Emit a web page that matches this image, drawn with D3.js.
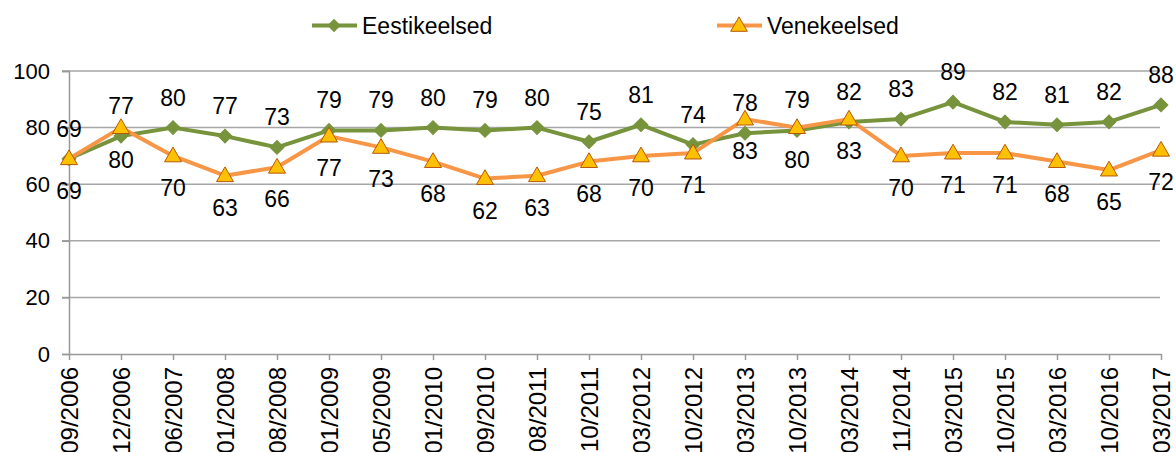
<!DOCTYPE html>
<html><head><meta charset="utf-8">
<script src="https://cdn.jsdelivr.net/npm/d3@7"></script>
<style>
html,body{margin:0;padding:0;background:#fff;}
svg{display:block;}
text{font-family:"Liberation Sans",Arial,sans-serif;fill:#000;}
</style></head>
<body>
<svg id="chart" width="1176" height="452"></svg>
<script>
const categories = ["09/2006","12/2006","06/2007","01/2008","08/2008","01/2009","05/2009","01/2010","09/2010","08/2011","10/2011","03/2012","10/2012","03/2013","10/2013","03/2014","11/2014","03/2015","10/2015","03/2016","10/2016","03/2017"];
const eesti = [69,77,80,77,73,79,79,80,79,80,75,81,74,78,79,82,83,89,82,81,82,88];
const vene  = [69,80,70,63,66,77,73,68,62,63,68,70,71,83,80,83,70,71,71,68,65,72];
const yTicks = [0,20,40,60,80,100];
const seriesNames = ["Eestikeelsed","Venekeelsed"];

const svg = d3.select("#chart");
const x = d3.scalePoint().domain(categories).range([69,1161]);
const y = d3.scaleLinear().domain([0,100]).range([354,71]);

const greenC = "#77933C", orangeC = "#F79646", triFill = "#FFC000", triStroke = "#B65708";
const fsLabel = 23, fsY = 22, fsX = 24;
const fam = "Liberation Sans, Arial, sans-serif";

// gridlines
svg.append("g").selectAll("line").data(yTicks.filter(d=>d>0)).join("line")
  .attr("x1",62).attr("x2",1160).attr("y1",d=>y(d)).attr("y2",d=>y(d))
  .attr("stroke","#a6a6a6").attr("stroke-width",1.5);

// y axis
const yAxis = d3.axisLeft(y).tickValues(yTicks).tickSize(7).tickPadding(12);
const gy = svg.append("g").attr("transform","translate(69,0)").call(yAxis);
gy.select(".domain").attr("stroke","#999").attr("stroke-width",1.5);
gy.selectAll(".tick line").attr("stroke","#999").attr("stroke-width",1.5);
gy.selectAll(".tick text").style("font-size",fsY+"px").style("font-family",fam).attr("fill","#000");

// x axis
const xAxis = d3.axisBottom(x).tickSize(6).tickSizeOuter(0);
const gx = svg.append("g").attr("transform","translate(0,354)").call(xAxis);
gx.select(".domain").attr("stroke","#999").attr("stroke-width",1.5);
gx.selectAll(".tick line").attr("stroke","#999").attr("stroke-width",1.5);
gx.selectAll(".tick text")
  .style("font-size",fsX+"px").style("font-family",fam).attr("fill","#000")
  .attr("transform","rotate(-90)").attr("text-anchor","end")
  .attr("x",-13).attr("y",0).attr("dy","0.36em");

const line = d3.line().x((d,i)=>x(categories[i])).y(d=>y(d));

// green series
svg.append("path").datum(eesti).attr("d",line).attr("fill","none")
  .attr("stroke",greenC).attr("stroke-width",4).attr("stroke-linejoin","round");
svg.append("g").selectAll("path").data(eesti).join("path")
  .attr("d", d3.symbol().type(d3.symbolSquare).size(95))
  .attr("transform",(d,i)=>`translate(${x(categories[i])},${y(d)}) rotate(45)`)
  .attr("fill",greenC).attr("stroke",greenC).attr("stroke-width",1);

// orange series
svg.append("path").datum(vene).attr("d",line).attr("fill","none")
  .attr("stroke",orangeC).attr("stroke-width",4).attr("stroke-linejoin","round");
const tri = d3.symbol().type(d3.symbolTriangle).size(125);
svg.append("g").selectAll("path").data(vene).join("path")
  .attr("d",tri)
  .attr("transform",(d,i)=>`translate(${x(categories[i])},${y(d)+1})`)
  .attr("fill",triFill).attr("stroke",triStroke).attr("stroke-width",1);

// data labels
svg.append("g").selectAll("text").data(eesti).join("text")
  .attr("x",(d,i)=>x(categories[i])).attr("y",d=>y(d)-30).attr("dy","0.35em")
  .attr("text-anchor","middle").style("font-size",fsLabel+"px").text(d=>d);
svg.append("g").selectAll("text").data(vene).join("text")
  .attr("x",(d,i)=>x(categories[i])).attr("y",d=>y(d)+32).attr("dy","0.35em")
  .attr("text-anchor","middle").style("font-size",fsLabel+"px").text(d=>d);

// legend
const leg = svg.append("g");
const lx = [312,717];
seriesNames.forEach((name,k)=>{
  const g = leg.append("g").attr("transform",`translate(${lx[k]},25.5)`);
  g.append("line").attr("x1",0).attr("x2",45).attr("y1",0).attr("y2",0)
    .attr("stroke",k===0?greenC:orangeC).attr("stroke-width",4);
  if(k===0){
    g.append("path").attr("d",d3.symbol().type(d3.symbolSquare).size(90)())
      .attr("transform","translate(22,0) rotate(45)").attr("fill",greenC);
  } else {
    g.append("path").attr("d",d3.symbol().type(d3.symbolTriangle).size(120)())
      .attr("transform","translate(22,1)").attr("fill",triFill).attr("stroke",triStroke).attr("stroke-width",1);
  }
  g.append("text").attr("x",50).attr("y",0).attr("dy","0.35em")
    .style("font-size",fsLabel+"px").text(name);
});
</script>
</body></html>
